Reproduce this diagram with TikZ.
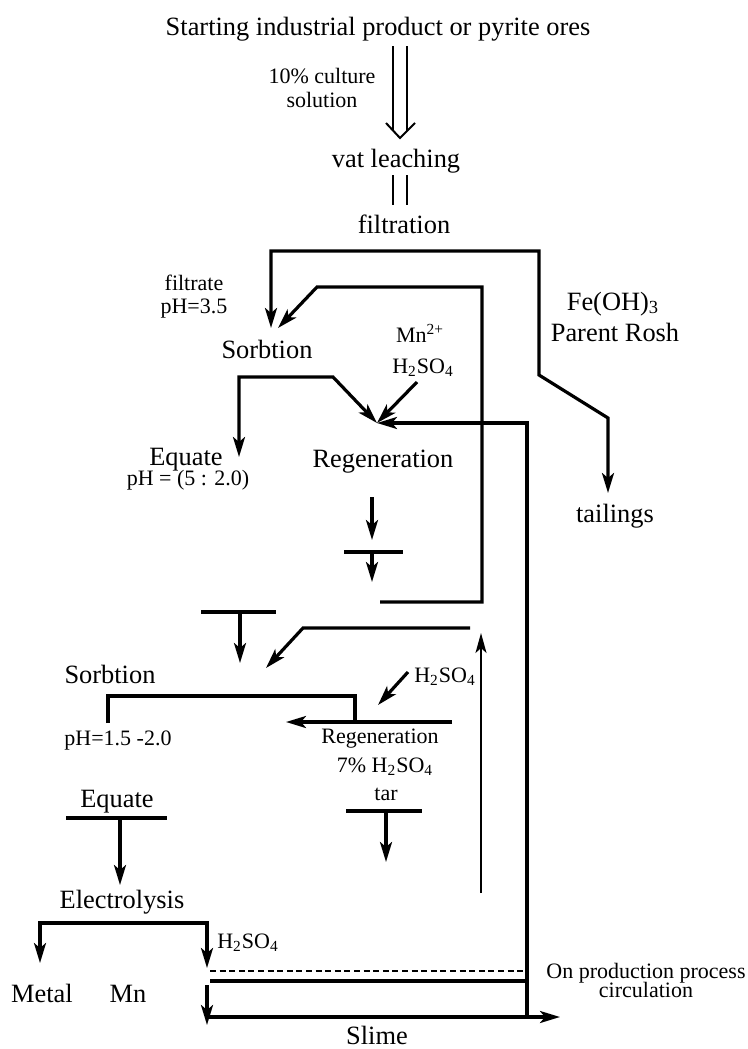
\documentclass[tikz,border=0pt]{standalone}
\usepackage{fontspec}
\setmainfont{Liberation Serif}
\usetikzlibrary{arrows.meta}
\tikzset{
  lbl/.style={font=\fontsize{13.2}{15}\selectfont, inner sep=0pt, anchor=base},
  sm/.style={lbl, font=\fontsize{11}{13}\selectfont},
  ln/.style={line width=1.6pt, line join=miter},
  fl/.style={ln, -{Stealth[length=10pt,width=6pt,inset=2.5pt]}},
  fll/.style={ln, {Stealth[length=10pt,width=6pt,inset=2.5pt]}-{Stealth[length=10pt,width=6pt,inset=2.5pt]}},
  thinfl/.style={line width=1pt, -{Stealth[length=10pt,width=5.5pt,inset=2.5pt]}},
  dbl/.style={double, double distance=6pt, line width=1pt},
  vee/.style={line width=1pt, line join=miter},
  dashln/.style={line width=1.2pt, dash pattern=on 3pt off 1.8pt}
}
\begin{document}
\begin{tikzpicture}[x=0.5pt, y=-0.5pt]
  \useasboundingbox (0,0) rectangle (748,1049);
  % texts
  \node[lbl] (title) at (378,35) {Starting industrial product or pyrite ores};
  \node[sm] (cult) at (322,83) {10\% culture};
  \node[sm] (cultb) at (322,107) {solution};
  \node[lbl] (leach) at (396,167) {vat leaching};
  \node[lbl] (filt) at (404,233) {filtration};
  \node[sm] (ftr) at (194,290) {filtrate};
  \node[sm] (ftrph) at (194,313) {pH=3.5};
  \node[lbl] (sorbA) at (267,358) {Sorbtion};
  \node[sm] (mn) at (420,342) {Mn\textsuperscript{2+}};
  \node[sm] (acidA) at (423,373) {H\textsubscript{2}SO\textsubscript{4}};
  \node[lbl] (fe) at (613,310) {Fe(OH)\textsubscript{3}};
  \node[lbl] (rosh) at (615,341) {Parent Rosh};
  \node[lbl] (tail) at (615,522) {tailings};
  \node[lbl] (eqA) at (186,465) {Equate};
  \node[sm] (eqAph) at (188,485) {pH = (5 : 2.0)};
  \node[lbl] (regA) at (383,467) {Regeneration};
  \node[lbl] (sorbB) at (110,683) {Sorbtion};
  \node[sm] (sorbBph) at (118,745) {pH=1.5 -2.0};
  \node[sm] (acidB) at (445,682) {H\textsubscript{2}SO\textsubscript{4}};
  \node[sm] (regB) at (380,743) {Regeneration};
  \node[sm] (regBa) at (385,772) {7\% H\textsubscript{2}SO\textsubscript{4}};
  \node[sm] (tar) at (386,800) {tar};
  \node[lbl] (eqB) at (117,807) {Equate};
  \node[lbl] (elec) at (122,908) {Electrolysis};
  \node[sm] (acidC) at (248,948) {H\textsubscript{2}SO\textsubscript{4}};
  \node[lbl] (metal) at (42,1002) {Metal};
  \node[lbl] (mnB) at (128,1002) {Mn};
  \node[sm] (circ) at (646,978) {On production process};
  \node[sm] (circb) at (646,997) {circulation};
  \node[lbl] (slime) at (377,1044) {Slime};
  % points
  \coordinate (d0) at (400,46);   \coordinate (d1) at (400,138);
  \coordinate (e0) at (400,175);  \coordinate (e1) at (400,205);
  \coordinate (fb) at (539,251);  \coordinate (sAin) at (271,328);
  \coordinate (fk) at (539,375);  \coordinate (fk2) at (608,418);
  \coordinate (tin) at (608,493);
  \coordinate (lp0) at (380,602); \coordinate (lp1) at (482,287);
  \coordinate (lp2) at (317,287); \coordinate (sAin2) at (278,328);
  \coordinate (eqin) at (239,457); \coordinate (sAr) at (333,377);
  \coordinate (rin) at (377,423); \coordinate (mnout) at (417,382);
  \coordinate (ret) at (527,1017);
  \coordinate (ta0) at (372,497); \coordinate (ta1) at (372,540);
  \coordinate (tbL) at (344,552); \coordinate (tbR) at (403,552);
  \coordinate (ta2) at (372,552); \coordinate (ta3) at (372,582);
  \coordinate (tcL) at (201,612); \coordinate (tcR) at (276,612);
  \coordinate (tc0) at (240,612); \coordinate (tc1) at (240,663);
  \coordinate (rb0) at (470,628); \coordinate (rb1) at (303,628);
  \coordinate (rb2) at (266,668);
  \coordinate (acBo) at (408,672); \coordinate (acBi) at (378,705);
  \coordinate (sb0) at (108,723); \coordinate (sb1) at (355,696);
  \coordinate (sb2) at (355,722);
  \coordinate (rg0) at (452,722); \coordinate (rg1) at (286,722);
  \coordinate (tdL) at (346,811); \coordinate (tdR) at (422,811);
  \coordinate (td0) at (386,811); \coordinate (td1) at (386,862);
  \coordinate (up0) at (481,893); \coordinate (up1) at (481,633);
  \coordinate (teL) at (66,818);  \coordinate (teR) at (167,818);
  \coordinate (te0) at (120,818); \coordinate (te1) at (120,885);
  \coordinate (mtin) at (40,963); \coordinate (elR) at (207,923);
  \coordinate (elin) at (207,968);
  \coordinate (sm0) at (207,985); \coordinate (sm1) at (207,1025);
  \coordinate (sl0) at (207,1017); \coordinate (sl1) at (560,1017);
  \coordinate (ps0) at (210,981); \coordinate (ps1) at (527,981);
  \coordinate (pd0) at (210,971); \coordinate (pd1) at (525,971);
  % connectors
  \draw[dbl] (d0) -- ([shift={(0,-7)}]d1);
  \draw[vee] ([shift={(-14,-15)}]d1) -- (d1) -- ([shift={(15,-15)}]d1);
  \draw[dbl] (e0) -- (e1);
  \draw[fll] (sAin) |- (fb) -- (fk) -- (fk2) -- (tin);
  \draw[fl] (lp0) -| (lp1) -- (lp2) -- (sAin2);
  \draw[fll] (eqin) |- (sAr) -- (rin);
  \draw[fl] (mnout) -- (rin);
  \draw[fl] (ret) |- (rin);
  \draw[fl] (ta0) -- (ta1);
  \draw[ln] (tbL) -- (tbR);
  \draw[fl] (ta2) -- (ta3);
  \draw[ln] (tcL) -- (tcR);
  \draw[fl] (tc0) -- (tc1);
  \draw[fl] (rb0) -- (rb1) -- (rb2);
  \draw[fl] (acBo) -- (acBi);
  \draw[ln] (sb0) |- (sb1) -- (sb2);
  \draw[fl] (rg0) -- (rg1);
  \draw[ln] (tdL) -- (tdR);
  \draw[fl] (td0) -- (td1);
  \draw[thinfl] (up0) -- (up1);
  \draw[ln] (teL) -- (teR);
  \draw[fl] (te0) -- (te1);
  \draw[fll] (mtin) |- (elR) -- (elin);
  \draw[fl] (sm0) -- (sm1);
  \draw[fl] (sl0) -- (sl1);
  \draw[ln] (ps0) -- (ps1);
  \draw[dashln] (pd0) -- (pd1);
\end{tikzpicture}
\end{document}
